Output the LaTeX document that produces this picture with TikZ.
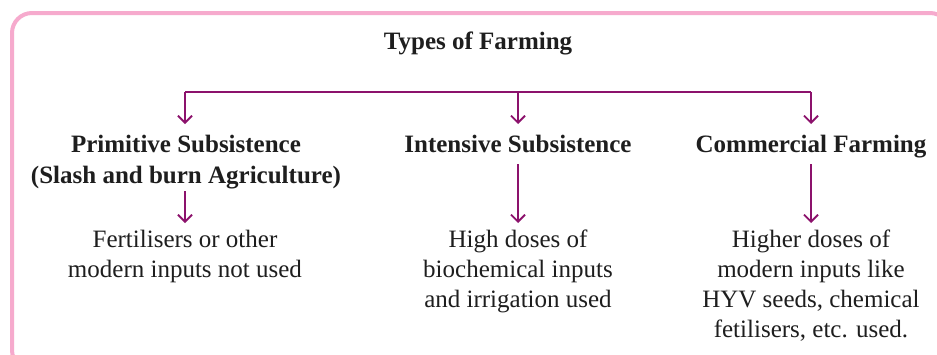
\documentclass[tikz,border=0pt]{standalone}
\usepackage{fontspec}
\setmainfont{Liberation Serif}
\usetikzlibrary{arrows.meta}
\definecolor{arrcol}{RGB}{140,18,108}
\definecolor{frame}{RGB}{246,170,205}
\definecolor{txt}{RGB}{30,30,30}
\begin{document}
\begin{tikzpicture}[x=1pt,y=-1pt,
  head/.style={font=\fontsize{25}{31}\selectfont\bfseries, text=txt, align=center, inner sep=0pt},
  desc/.style={font=\fontsize{25}{30}\selectfont, text=txt, align=center, inner sep=0pt, anchor=north},
  conn/.style={draw=arrcol, line width=1.8pt},
  arr/.style={conn, -{Straight Barb[length=7pt,width=14pt]}}]
\useasboundingbox (0,0) rectangle (937,354);
\draw[frame, line width=4pt, rounded corners=20pt, fill=white] (12,13) rectangle (950,370);
\node[head] (title) at (478,43) {Types of Farming};
\node[head, anchor=north] (h1) at (186,135) {Primitive Subsistence\\(Slash and burn Agriculture)};
\node[head, anchor=north] (h2) at (518,135) {Intensive Subsistence};
\node[head, anchor=north] (h3) at (811,135) {Commercial Farming};
\coordinate (b1) at (185,92);
\coordinate (b2) at (518,92);
\coordinate (b3) at (811,92);
\draw[conn] (b1) -- (b3);
\draw[arr, shorten >=11pt] (b1) -- (b1 |- h1.north);
\draw[arr, shorten >=11pt] (b2) -- (h2.north);
\draw[arr, shorten >=11pt] (b3) -- (h3.north);
\node[desc] (d1) at (185,230) {Fertilisers or other\\modern inputs not used};
\node[desc] (d2) at (518,230) {High doses of\\biochemical inputs\\and irrigation used};
\node[desc] (d3) at (811,230) {Higher doses of\\modern inputs like\\HYV seeds, chemical\\fetilisers, etc. used.};
\draw[arr, shorten <=2pt, shorten >=7pt] (h1.south -| d1.north) -- (d1.north);
\draw[arr, shorten <=11pt, shorten >=7pt] (h2.south) -- (d2.north);
\draw[arr, shorten <=6pt, shorten >=7pt] (h3.south) -- (d3.north);
\end{tikzpicture}
\end{document}
